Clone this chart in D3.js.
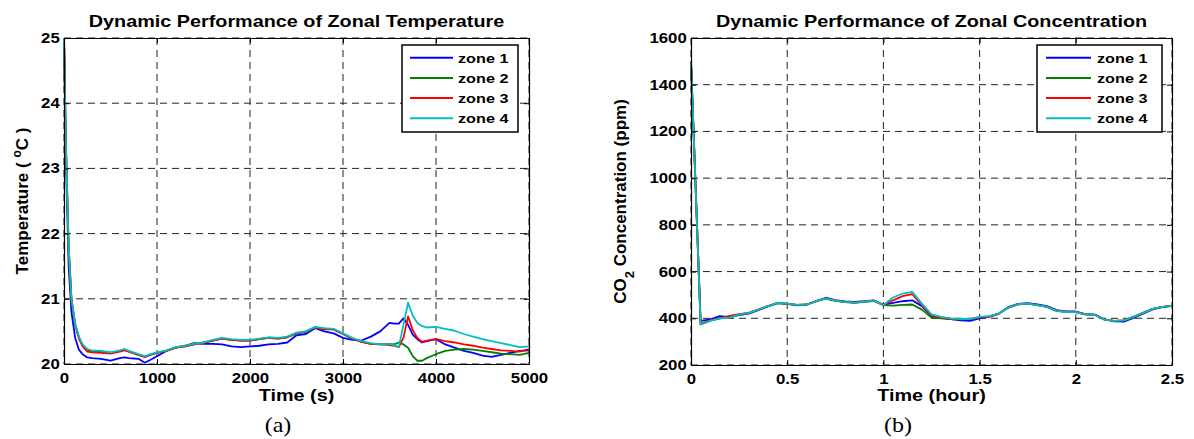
<!DOCTYPE html>
<html lang="en">
<head>
  <meta charset='utf-8'>
  <title>Dynamic Performance of Zonal Temperature / Concentration</title>
  <style>
    body { margin: 0; background: #fff; }
    svg { background-color: #fff; display: block; }
    .axis path, .axis line { stroke: #000; }
    .grid line { stroke: #222; stroke-dasharray: 7,5; }
    svg text { font-family: "Liberation Sans", Arial, Helvetica, sans-serif; font-weight: bold; fill: #000; }
    svg text.cap { font-family: "Liberation Serif", "Times New Roman", serif; font-weight: normal; }
  </style>
</head>
<body>
  <div id="chart"></div>

<script src="https://d3js.org/d3.v7.min.js"></script>
<script>

  ////////////////////////////////////////////////// DATA

  var zoneNames = ["zone 1", "zone 2", "zone 3", "zone 4"];
  var zoneColors = ["#0000ff", "#008000", "#ff0000", "#00bfbf"];

  // (a) temperature, time in seconds
  var tempTime = [0, 20, 50, 80, 120, 160, 200, 250, 300, 400, 500, 600, 650, 700, 800, 870, 950, 1000,
                  1100, 1200, 1300, 1400, 1500, 1600, 1700, 1800, 1900, 2000, 2100, 2200, 2300, 2400,
                  2500, 2600, 2700, 2800, 2900, 3000, 3100, 3200, 3300, 3400, 3500, 3550, 3600, 3650,
                  3700, 3750, 3800, 3850, 3900, 4000, 4100, 4200, 4300, 4400, 4500, 4600, 4700, 4800,
                  4900, 5000];
  var tempZone1 = [25.0, 23.2, 21.5, 20.8, 20.4, 20.22, 20.15, 20.1, 20.09, 20.08, 20.05, 20.09, 20.1, 20.09, 20.08, 20.02, 20.08, 20.12,
                   20.2, 20.25, 20.28, 20.32, 20.31, 20.31, 20.3, 20.27, 20.26, 20.27, 20.28, 20.3, 20.31, 20.33,
                   20.44, 20.46, 20.55, 20.5, 20.47, 20.4, 20.37, 20.36, 20.42, 20.5, 20.63, 20.62, 20.62, 20.7,
                   20.6, 20.45, 20.38, 20.33, 20.35, 20.38, 20.3, 20.25, 20.2, 20.17, 20.13, 20.11, 20.14, 20.17,
                   20.2, 20.21];
  var tempZone2 = [25.0, 23.4, 21.8, 21.0, 20.61, 20.41, 20.29, 20.21, 20.2, 20.19, 20.17, 20.2, 20.22, 20.19, 20.14, 20.11, 20.15, 20.17,
                   20.2, 20.25, 20.27, 20.3, 20.33, 20.36, 20.39, 20.37, 20.36, 20.36, 20.38, 20.4, 20.39, 20.41,
                   20.47, 20.49, 20.56, 20.54, 20.53, 20.46, 20.39, 20.34, 20.31, 20.3, 20.31, 20.3, 20.33, 20.3,
                   20.25, 20.12, 20.05, 20.05, 20.09, 20.15, 20.2, 20.22, 20.23, 20.22, 20.2, 20.18, 20.16, 20.15,
                   20.14, 20.17];
  var tempZone3 = [25.0, 23.4, 21.8, 21.0, 20.6, 20.39, 20.27, 20.19, 20.18, 20.17, 20.16, 20.19, 20.21, 20.19, 20.14, 20.11, 20.15, 20.17,
                   20.2, 20.25, 20.27, 20.3, 20.32, 20.36, 20.39, 20.37, 20.36, 20.36, 20.38, 20.4, 20.39, 20.41,
                   20.47, 20.5, 20.56, 20.53, 20.53, 20.46, 20.39, 20.34, 20.31, 20.3, 20.29, 20.28, 20.26, 20.4,
                   20.73, 20.52, 20.4, 20.34, 20.36, 20.38, 20.35, 20.33, 20.3, 20.28, 20.25, 20.23, 20.21, 20.2,
                   20.19, 20.23];
  var tempZone4 = [25.0, 23.4, 21.8, 21.0, 20.62, 20.42, 20.3, 20.23, 20.21, 20.2, 20.18, 20.21, 20.23, 20.2, 20.15, 20.12, 20.16, 20.18,
                   20.21, 20.26, 20.28, 20.31, 20.33, 20.37, 20.4, 20.38, 20.37, 20.37, 20.39, 20.41, 20.4, 20.42,
                   20.48, 20.5, 20.57, 20.55, 20.54, 20.47, 20.4, 20.35, 20.32, 20.3, 20.31, 20.29, 20.26, 20.6,
                   20.94, 20.74, 20.63, 20.58, 20.56, 20.57, 20.54, 20.51, 20.46, 20.42, 20.38, 20.35, 20.32, 20.29,
                   20.26, 20.27];
  var tempXTicks = [0, 1000, 2000, 3000, 4000, 5000];
  var tempYTicks = [20, 21, 22, 23, 24, 25];

  // (b) CO2 concentration, time in hours
  var co2Time = [0, 0.05, 0.1, 0.15, 0.2, 0.25, 0.3, 0.35, 0.4, 0.45, 0.5, 0.55, 0.6, 0.65, 0.7, 0.75, 0.8,
                 0.85, 0.9, 0.95, 1.0, 1.05, 1.1, 1.15, 1.2, 1.25, 1.3, 1.35, 1.4, 1.45, 1.5, 1.55, 1.6,
                 1.65, 1.7, 1.75, 1.8, 1.85, 1.9, 1.95, 2.0, 2.05, 2.1, 2.15, 2.2, 2.25, 2.3, 2.35, 2.4,
                 2.45, 2.5];
  var co2Zone1 = [1500, 389, 395, 409, 405, 414, 420, 435, 451, 465, 462, 455, 458, 474, 488, 478, 472,
                  470, 473, 477, 458, 466, 473, 477, 452, 409, 402, 397, 391, 389, 400, 406, 420,
                  448, 462, 465, 459, 452, 435, 430, 429, 418, 416, 395, 387, 386, 402, 420, 438,
                  448, 453];
  var co2Zone2 = [1500, 375, 390, 400, 403, 416, 423, 437, 452, 465, 462, 457, 458, 472, 484, 475, 469,
                  466, 470, 474, 456, 454, 457, 459, 437, 403, 400, 397, 395, 396, 404, 408, 420,
                  446, 460, 463, 456, 449, 432, 427, 426, 417, 414, 394, 389, 391, 406, 423, 440,
                  449, 453];
  var co2Zone3 = [1500, 376, 391, 401, 410, 418, 423, 437, 452, 466, 463, 457, 459, 473, 485, 476, 470,
                  467, 471, 475, 457, 477, 495, 503, 456, 411, 403, 398, 396, 396, 404, 407, 419,
                  446, 460, 463, 456, 449, 432, 427, 426, 417, 414, 394, 389, 391, 406, 423, 440,
                  449, 453];
  var co2Zone4 = [1500, 373, 389, 400, 403, 416, 423, 437, 452, 466, 463, 457, 459, 473, 485, 476, 470,
                  467, 471, 475, 457, 489, 506, 513, 463, 417, 406, 400, 397, 397, 406, 409, 420,
                  446, 460, 463, 456, 449, 432, 427, 426, 417, 414, 394, 389, 391, 406, 423, 440,
                  449, 453];
  var co2XTicks = [0, 0.5, 1, 1.5, 2, 2.5];
  var co2YTicks = [200, 400, 600, 800, 1000, 1200, 1400, 1600];

  ////////////////////////////////////////////////// SETUP

  var svgWidth = 1194;
  var svgHeight = 439;
  var stretch = 1.2;   // glyphs in the source are a bit wide

  var svg = d3.select("#chart").append("svg")
              .attr("width", svgWidth)
              .attr("height", svgHeight);

  Panel({
    left: 64, right: 529, top: 38, bottom: 364,
    xDomain: [0, 5000], yDomain: [20, 25],
    xTicks: tempXTicks, yTicks: tempYTicks,
    time: tempTime, series: [tempZone1, tempZone2, tempZone3, tempZone4],
    title: "Dynamic Performance of Zonal Temperature",
    xLabel: "Time (s)",
    yLabel: function(t) {
      t.append("tspan").text("Temperature ( ");
      t.append("tspan").attr("baseline-shift", "super").attr("font-size", "12px").text("o");
      t.append("tspan").text("C )");
    },
    yLabelX: 22,
    legend: { x: 402, y: 45, w: 116, h: 87, lineX: 410, lineLen: 43, textX: 458 },
    caption: "(a)", captionX: 278
  });

  Panel({
    left: 691, right: 1172, top: 38, bottom: 365,
    xDomain: [0, 2.5], yDomain: [200, 1600],
    xTicks: co2XTicks, yTicks: co2YTicks,
    time: co2Time, series: [co2Zone1, co2Zone2, co2Zone3, co2Zone4],
    title: "Dynamic Performance of Zonal Concentration",
    xLabel: "Time (hour)",
    yLabel: function(t) {
      t.append("tspan").text("CO");
      t.append("tspan").attr("baseline-shift", "sub").attr("font-size", "13px").text("2");
      t.append("tspan").text(" Concentration (ppm)");
    },
    yLabelX: 620,
    legend: { x: 1037, y: 45, w: 125, h: 87, lineX: 1046, lineLen: 45, textX: 1097 },
    caption: "(b)", captionX: 898
  });

  ////////////////////////////////////////////////////////////////////////////////////////////////////
  ////////////////////////////////////////////////// FUNCTIONS

  // stretched text, anchored at (x,y)
  function wideText(parent, x, y, str, size, anchor){
    return parent.append("text")
                 .attr("transform", "translate(" + x + "," + y + ") scale(" + stretch + ",1)")
                 .attr("font-size", size + "px")
                 .attr("text-anchor", anchor || "middle")
                 .text(str);
  }

  function Panel(p){
    var xScale = d3.scaleLinear().domain(p.xDomain).range([p.left, p.right]);
    var yScale = d3.scaleLinear().domain(p.yDomain).range([p.bottom, p.top]);
    var w = p.right - p.left;
    var h = p.bottom - p.top;
    var plain = function(d){ return String(d); };

    var g = svg.append("g");

    // grid
    var grid = g.append("g").attr("class", "grid");
    grid.selectAll(".gx").data(p.xTicks).enter().append("line")
        .attr("x1", function(d){ return xScale(d); }).attr("x2", function(d){ return xScale(d); })
        .attr("y1", p.top).attr("y2", p.bottom);
    grid.selectAll(".gy").data(p.yTicks).enter().append("line")
        .attr("x1", p.left).attr("x2", p.right)
        .attr("y1", function(d){ return yScale(d); }).attr("y2", function(d){ return yScale(d); });

    // lines
    var line = d3.line()
                 .x(function(d){ return xScale(d[0]); })
                 .y(function(d){ return yScale(d[1]); });

    p.series.forEach(function(vals, i){
      g.append("path")
       .datum(p.time.map(function(t, k){ return [t, vals[k]]; }))
       .attr("fill", "none")
       .attr("stroke", zoneColors[i])
       .attr("stroke-width", 1.8)
       .attr("stroke-linejoin", "round")
       .attr("d", line);
    });

    // axes (ticks point inward, box on all sides)
    var ax = g.append("g").attr("class", "axis")
              .attr("transform", "translate(0," + p.bottom + ")")
              .call(d3.axisBottom(xScale).tickValues(p.xTicks).tickFormat(plain)
                      .tickSizeInner(-5).tickSizeOuter(0).tickPadding(9));
    ax.attr("font-family", null).attr("font-size", null);
    ax.selectAll("text").attr("font-size", "14px")
      .attr("transform", "scale(" + stretch + ",1)");

    var ay = g.append("g").attr("class", "axis")
              .attr("transform", "translate(" + p.left + ",0)")
              .call(d3.axisLeft(yScale).tickValues(p.yTicks).tickFormat(plain)
                      .tickSizeInner(-5).tickSizeOuter(0).tickPadding(3.5));
    ay.attr("font-family", null).attr("font-size", null);
    ay.selectAll("text").attr("font-size", "14px")
      .attr("transform", "scale(" + stretch + ",1)");

    g.append("g").attr("class", "axis")
     .attr("transform", "translate(0," + p.top + ")")
     .call(d3.axisTop(xScale).tickValues(p.xTicks).tickSizeInner(-5).tickSizeOuter(0).tickFormat(""));
    g.append("g").attr("class", "axis")
     .attr("transform", "translate(" + p.right + ",0)")
     .call(d3.axisRight(yScale).tickValues(p.yTicks).tickSizeInner(-5).tickSizeOuter(0).tickFormat(""));

    g.selectAll(".axis path").attr("stroke-width", 1.2);

    // titles
    wideText(g, p.left + w / 2, 27, p.title, 16.5);
    wideText(g, p.left + w / 2, 401, p.xLabel, 16.5);

    var yl = g.append("text")
              .attr("transform", "translate(" + p.yLabelX + "," + (p.top + h / 2) + ") rotate(-90)")
              .attr("dy", "0.35em")
              .attr("font-size", "17px")
              .attr("text-anchor", "middle");
    p.yLabel(yl);

    // legend
    var L = p.legend;
    var lg = g.append("g");
    lg.append("rect")
      .attr("x", L.x).attr("y", L.y).attr("width", L.w).attr("height", L.h)
      .attr("fill", "#fff").attr("stroke", "#000").attr("stroke-width", 1.5);
    zoneNames.forEach(function(name, i){
      var ly = L.y + 12.7 + i * 20.2;
      lg.append("line")
        .attr("x1", L.lineX).attr("x2", L.lineX + L.lineLen)
        .attr("y1", ly).attr("y2", ly)
        .attr("stroke", zoneColors[i]).attr("stroke-width", 2);
      wideText(lg, L.textX, ly + 5, name, 13.5, "start");
    });

    // caption under the panel
    wideText(g, p.captionX, 432, p.caption, 20).attr("class", "cap");
  }

</script>
</body>
</html>
